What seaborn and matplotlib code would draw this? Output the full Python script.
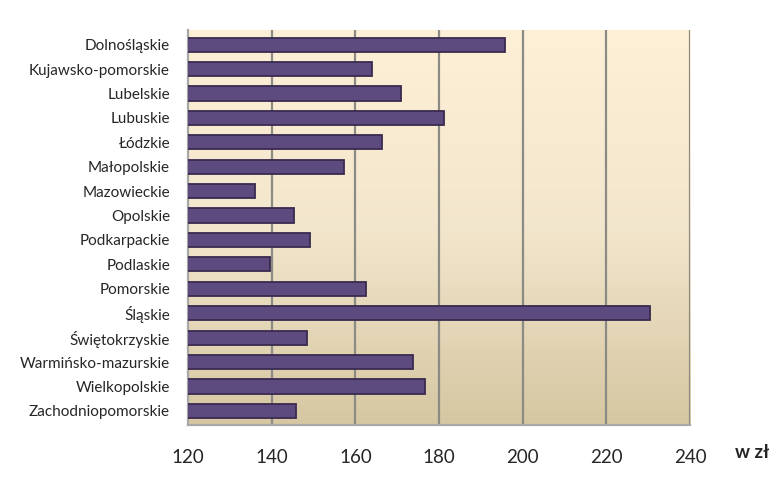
import numpy as np
import pandas as pd
import matplotlib
matplotlib.use("Agg")
import matplotlib.pyplot as plt
from matplotlib.colors import LinearSegmentedColormap
import seaborn as sns

regions = ["Dolnośląskie", "Kujawsko-pomorskie", "Lubelskie", "Lubuskie", "Łódzkie",
           "Małopolskie", "Mazowieckie", "Opolskie", "Podkarpackie", "Podlaskie",
           "Pomorskie", "Śląskie", "Świętokrzyskie", "Warmińsko-mazurskie",
           "Wielkopolskie", "Zachodniopomorskie"]
values = [195.8, 163.9, 171.0, 181.2, 166.4, 157.2, 136.0, 145.3, 149.2, 139.5,
          162.5, 230.5, 148.5, 173.7, 176.6, 145.9]
x_ticks = [120, 140, 160, 180, 200, 220, 240]

df = pd.DataFrame({"region": regions, "value": values})

sns.set_style("white")
plt.rcParams["font.family"] = ["Lato", "DejaVu Sans"]

fig = plt.figure(figsize=(7.8, 4.83), dpi=100)
ax = fig.add_axes([188 / 780, 1 - 425 / 483, (690 - 188) / 780, (425 - 30) / 483])

# wall gradient: cream at top, tan at bottom
cmap = LinearSegmentedColormap.from_list("wall", ["#fef0d6", "#f2e6cc", "#d6c7a2"])
grad = np.linspace(0, 1, 256).reshape(-1, 1)
ax.imshow(grad, cmap=cmap, aspect="auto", extent=[120, 240, 15.58, -0.6],
          zorder=0, interpolation="bicubic")

for xv in x_ticks[1:]:
    ax.axvline(xv, color="#8c8a84", lw=1.6, zorder=1)

sns.barplot(data=df, x="value", y="region", orient="h", color="#5d4a7e",
            width=0.58, edgecolor="#3a2a50", linewidth=1.3, saturation=1,
            ax=ax, zorder=3)

ax.set_xlim(120, 240)
ax.set_ylim(15.58, -0.6)
ax.set_xticks(x_ticks)
ax.set_xticklabels([str(v) for v in x_ticks], fontsize=13.5)
ax.set_yticks(range(len(regions)))
ax.set_yticklabels(regions, fontsize=11)
ax.set_yticks(np.arange(-0.5, len(regions), 1), minor=True)
ax.tick_params(axis="y", which="major", length=0, pad=13)
ax.tick_params(axis="y", which="minor", length=5, color="#9a9a9a", width=1.2)
ax.tick_params(axis="x", length=6, color="#9a9a9a", width=1.2, pad=11)
ax.set_xlabel("")
ax.set_ylabel("")

for side in ["top", "right"]:
    ax.spines[side].set_visible(False)
for side in ["left", "bottom"]:
    ax.spines[side].set_color("#a8a8a8")
    ax.spines[side].set_linewidth(1.6)

fig.text(735 / 780, 1 - 453 / 483, "w zł", fontsize=13.5, fontweight="bold",
         va="center", ha="left")

fig.savefig("out.png", dpi=100, facecolor="white")
